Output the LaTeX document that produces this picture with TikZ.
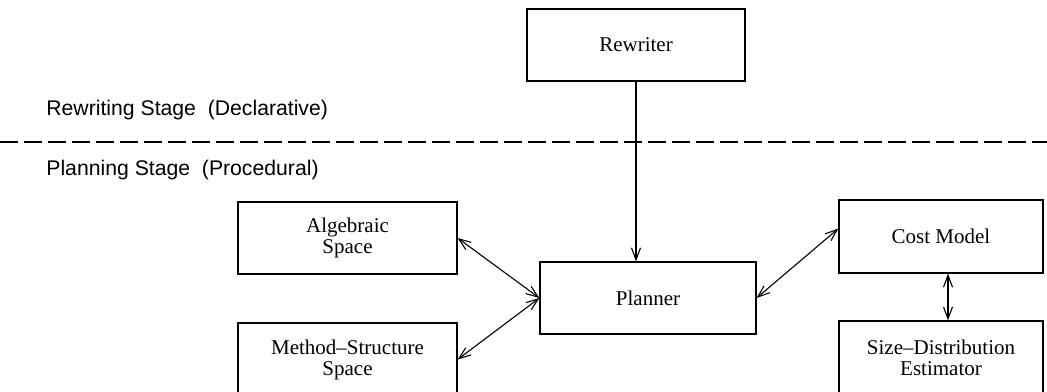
\documentclass[tikz,border=0pt]{standalone}
\usepackage{fontspec}
\setmainfont{Liberation Serif}
\setsansfont{Liberation Sans}
\usetikzlibrary{arrows.meta}

\begin{document}
\begin{tikzpicture}[x=0.5pt,y=-0.5pt,
  box/.style={draw, line width=0.6pt, align=center, inner sep=0pt,
    font=\fontsize{10.5}{10.5}\selectfont},
  link/.style={line width=0.55pt, {Straight Barb[length=6pt,width=4.5pt]}-{Straight Barb[length=6pt,width=4.5pt]}},
  stage/.style={anchor=base west, inner sep=0pt, font=\sffamily\fontsize{10.6}{12}\selectfont}]

\useasboundingbox (0,0) rectangle (1047,391);
\clip (0,0) rectangle (1047,391);

% stages
\node[stage] (decl) at (46,115) {Rewriting Stage\ \ (Declarative)};
\node[stage] (proc) at (46,175) {Planning Stage\ \ (Procedural)};
\coordinate (l) at (0,142);
\coordinate (r) at (1047,142);
\draw[line width=0.6pt, dash pattern=on 9pt off 3pt] (l) -- (r);

% boxes
\node[box, minimum width=109pt, minimum height=36pt] (rw) at (636,45) {Rewriter};
\node[box, minimum width=108pt, minimum height=36pt] (pl) at (648,298) {Planner};
\node[box, minimum width=109.5pt, minimum height=36pt] (alg) at (347.5,238) {Algebraic\\Space};
\node[box, minimum width=109.5pt, minimum height=36.5pt] (ms) at (347.5,359.5) {Method--Structure\\Space};
\node[box, minimum width=102pt, minimum height=36.5pt] (cm) at (941,236.5) {Cost Model};
\node[box, minimum width=102pt, minimum height=36.5pt] (sd) at (941,357.5) {Size--Distribution\\Estimator};

% connectors
\draw[line width=0.55pt, -{Straight Barb[length=6pt,width=4.5pt]}] (rw.south) -- (rw.south |- pl.north);
\draw[link] (alg.east) -- (pl.west);
\draw[link] (ms.east) -- (pl.west);
\draw[link] (pl.east) -- ([yshift=4pt]cm.west);
\draw[link] ([xshift=3.5pt]cm.south) -- ([xshift=3.5pt]sd.north);

\end{tikzpicture}
\end{document}
